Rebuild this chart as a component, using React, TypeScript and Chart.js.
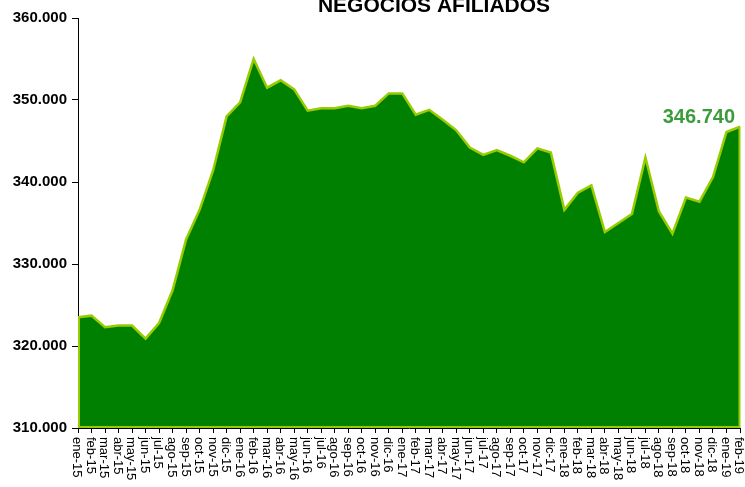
import React, { useEffect, useRef } from "react";
import { Chart, registerables } from "chart.js";

Chart.register(...registerables);

const categories = [
  "ene-15", "feb-15", "mar-15", "abr-15", "may-15", "jun-15", "jul-15", "ago-15", "sep-15", "oct-15", "nov-15", "dic-15",
  "ene-16", "feb-16", "mar-16", "abr-16", "may-16", "jun-16", "jul-16", "ago-16", "sep-16", "oct-16", "nov-16", "dic-16",
  "ene-17", "feb-17", "mar-17", "abr-17", "may-17", "jun-17", "jul-17", "ago-17", "sep-17", "oct-17", "nov-17", "dic-17",
  "ene-18", "feb-18", "mar-18", "abr-18", "may-18", "jun-18", "jul-18", "ago-18", "sep-18", "oct-18", "nov-18", "dic-18",
  "ene-19", "feb-19",
];

const negocios = [
  323500, 323700, 322300, 322500, 322500, 320900, 322800, 326800, 333000, 336600, 341400, 348000,
  349700, 355000, 351500, 352400, 351300, 348700, 349000, 349000, 349300, 349000, 349300, 350800,
  350800, 348200, 348800, 347600, 346300, 344200, 343300, 343900, 343200, 342400, 344100, 343600,
  336600, 338700, 339600, 333900, 335000, 336100, 343000, 336400, 333700, 338100, 337600, 340600,
  346100, 346740,
];

const yTicks = [310000, 320000, 330000, 340000, 350000, 360000];
const titleText = "NEGOCIOS AFILIADOS";

const FONT = "'Liberation Sans', Arial, Helvetica, sans-serif";
const LINE = "#99cc00";

function fmt(v: number): string {
  return String(Math.round(v)).replace(/\B(?=(\d{3})+(?!\d))/g, ".");
}

const customPlugin = {
  id: "custom",
  afterDatasetsDraw(chart: any) {
    const ctx = chart.ctx;
    const xs = chart.scales.x;
    const ys = chart.scales.y;
    const n = negocios.length;
    const bottom = ys.getPixelForValue(yTicks[0]);
    const x0 = xs.getPixelForValue(0);
    const x1 = xs.getPixelForValue(n - 1);
    const yFirst = ys.getPixelForValue(negocios[0]);
    const yLast = ys.getPixelForValue(negocios[n - 1]);
    ctx.save();
    ctx.strokeStyle = LINE;
    ctx.lineWidth = 2;
    ctx.beginPath();
    ctx.moveTo(x1 - 0.5, yLast);
    ctx.lineTo(x1 - 0.5, bottom - 1);
    ctx.lineTo(x0 + 1, bottom - 1);
    ctx.lineTo(x0 + 1, yFirst);
    ctx.stroke();
    ctx.restore();
  },
  afterDraw(chart: any) {
    const ctx = chart.ctx;
    const xs = chart.scales.x;
    const ys = chart.scales.y;
    const n = negocios.length;
    ctx.save();
    // title
    ctx.font = `bold 21px ${FONT}`;
    ctx.fillStyle = "#000000";
    ctx.textAlign = "center";
    ctx.textBaseline = "alphabetic";
    ctx.fillText(titleText, 434, 12);
    // last value annotation
    const lx = xs.getPixelForValue(n - 1);
    const ly = ys.getPixelForValue(negocios[n - 1]);
    ctx.font = `bold 20px ${FONT}`;
    ctx.fillStyle = "#3c9c3c";
    ctx.textAlign = "right";
    ctx.fillText(fmt(negocios[n - 1]), lx - 5, ly - 4);
    // x labels rotated (reading top to bottom)
    ctx.font = `13px ${FONT}`;
    ctx.fillStyle = "#000000";
    ctx.textAlign = "left";
    ctx.textBaseline = "middle";
    const top = ys.getPixelForValue(yTicks[0]) + 9;
    categories.forEach((lab, i) => {
      const px = xs.getPixelForValue(i);
      ctx.save();
      ctx.translate(px - 1, top);
      ctx.rotate(Math.PI / 2);
      ctx.fillText(lab, 0, 0);
      ctx.restore();
    });
    ctx.restore();
  },
};

export default function App() {
  const ref = useRef<HTMLCanvasElement | null>(null);
  useEffect(() => {
    if (!ref.current) return;
    const chart = new Chart(ref.current, {
      type: "line",
      data: {
        labels: categories,
        datasets: [
          {
            data: negocios,
            borderColor: LINE,
            borderWidth: 2.5,
            backgroundColor: "#008000",
            fill: "start",
            pointRadius: 0,
            tension: 0,
          },
        ],
      },
      options: {
        animation: false,
        responsive: true,
        maintainAspectRatio: false,
        layout: { padding: { top: 18, right: 5, left: 0, bottom: 0 } },
        plugins: {
          legend: { display: false },
          tooltip: { enabled: false },
          title: { display: false },
        },
        scales: {
          x: {
            type: "category",
            offset: false,
            z: 1,
            grid: {
              display: true,
              drawOnChartArea: false,
              drawTicks: true,
              tickLength: 5,
              tickColor: "#000000",
              tickWidth: 1,
            },
            border: { display: true, color: "#000000", width: 1 },
            ticks: { display: false, autoSkip: false },
            afterFit: (s: any) => {
              s.height = 59;
            },
          },
          y: {
            min: 310000,
            max: 360000,
            z: 1,
            grid: {
              display: true,
              drawOnChartArea: false,
              drawTicks: true,
              tickLength: 6,
              tickColor: "#000000",
              tickWidth: 1,
            },
            border: { display: true, color: "#000000", width: 1 },
            afterBuildTicks: (s: any) => {
              s.ticks = yTicks.map((v) => ({ value: v }));
            },
            ticks: {
              color: "#000000",
              padding: 5,
              font: { family: FONT, size: 15, weight: "bold" },
              callback: (v: any) => fmt(Number(v)),
            },
            afterFit: (s: any) => {
              s.width = 78;
            },
          },
        },
      },
      plugins: [customPlugin],
    });
    return () => chart.destroy();
  }, []);
  return (
    <div style={{ position: "fixed", left: 0, top: 0, width: 745, height: 487, background: "#ffffff" }}>
      <canvas ref={ref} />
    </div>
  );
}
